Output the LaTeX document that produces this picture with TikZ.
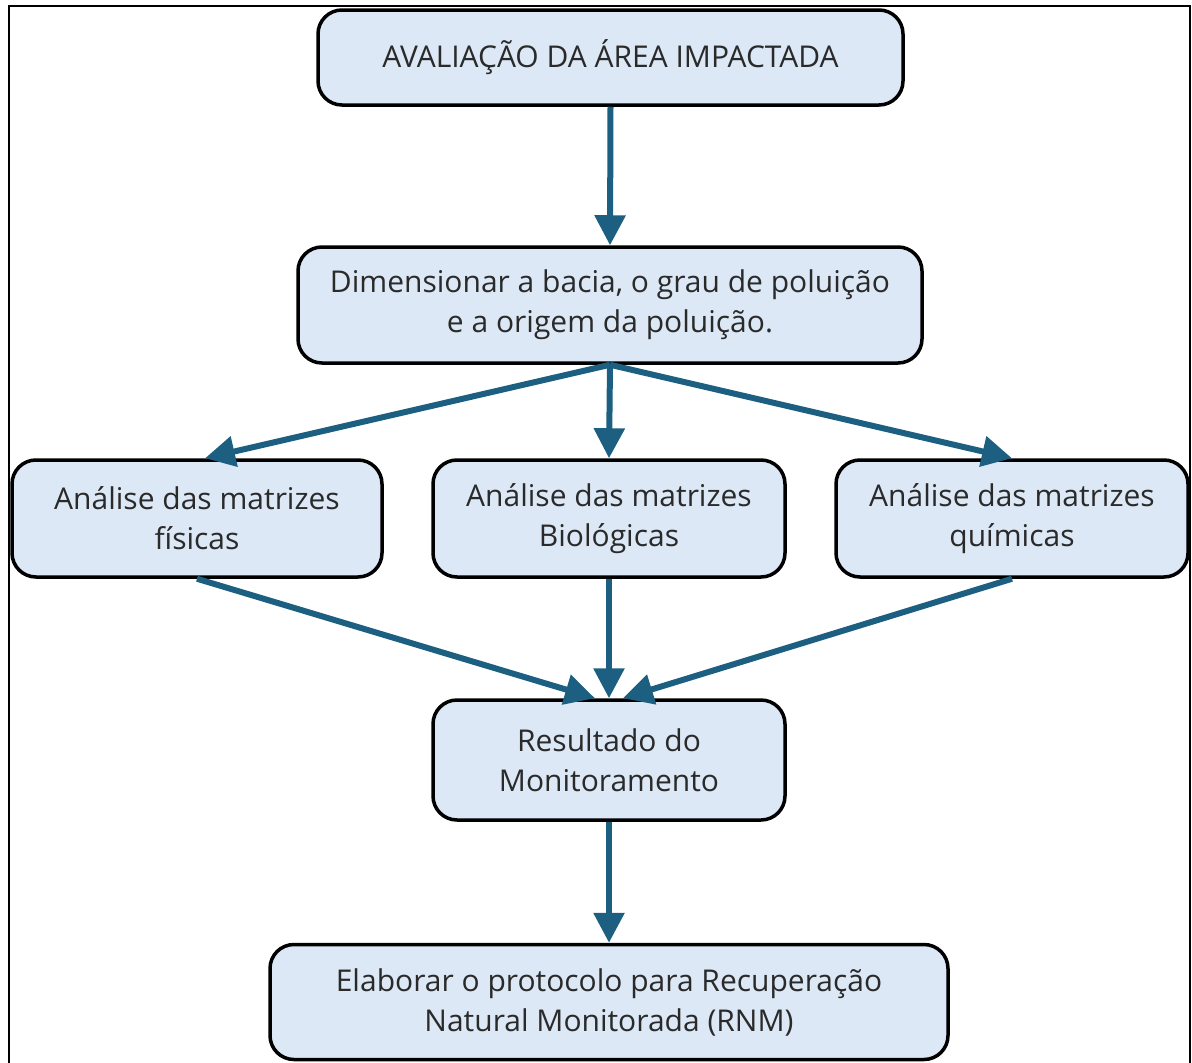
\documentclass[tikz,border=0pt]{standalone}
\usepackage{fontspec}
\setmainfont{Open Sans}
\usetikzlibrary{arrows.meta,calc}
\definecolor{boxfill}{HTML}{DCE8F5}
\definecolor{arrowc}{HTML}{1C5F80}
\definecolor{txt}{HTML}{2A2A2A}
\begin{document}
\begin{tikzpicture}[x=1pt,y=-1pt,
  stepbox/.style={draw=black,line width=3.5pt,fill=boxfill,rounded corners=24pt,
    align=center,text=txt,font=\fontsize{30}{40}\selectfont,inner sep=0pt},
  conn/.style={draw=arrowc,line width=6pt,-{Triangle[length=30pt,width=30pt]}}]
\useasboundingbox (0,0) rectangle (1192,1063);
\draw[line width=2.5pt] (9,1070) -- (9,6) -- (1190,6) -- (1190,1070);
\node[stepbox,minimum width=585pt,minimum height=95pt] (top) at (610.5,57.5) {AVALIAÇÃO DA ÁREA IMPACTADA};
\node[stepbox,minimum width=624pt,minimum height=116pt] (dim) at (610,305) {Dimensionar a bacia, o grau de poluição\\e a origem da poluição.};
\node[stepbox,minimum width=370pt,minimum height=117pt] (fis) at (197,518.5) {Análise das matrizes\\físicas};
\node[stepbox,minimum width=352pt,minimum height=117pt] (bio) at (609,518.5) {Análise das matrizes\\Biológicas};
\node[stepbox,minimum width=352pt,minimum height=117pt] (qui) at (1012,518.5) {Análise das matrizes\\químicas};
\node[stepbox,minimum width=352pt,minimum height=120pt] (res) at (609,760) {Resultado do\\Monitoramento};
\node[stepbox,minimum width=678pt,minimum height=115pt] (ela) at (609,1002) {Elaborar o protocolo para Recuperação\\Natural Monitorada (RNM)};
\draw[conn] (top.south) -- (dim.north);
\draw[conn] (dim.south) -- ($(fis.north)+(8,0)$);
\draw[conn] (dim.south) -- (bio.north);
\draw[conn] (dim.south) -- (qui.north);
\draw[conn] (fis.south) -- ($(res.north)+(-14,0)$);
\draw[conn] (bio.south) -- (res.north);
\draw[conn] (qui.south) -- ($(res.north)+(14,0)$);
\draw[conn] (res.south) -- (ela.north);
\end{tikzpicture}
\end{document}
